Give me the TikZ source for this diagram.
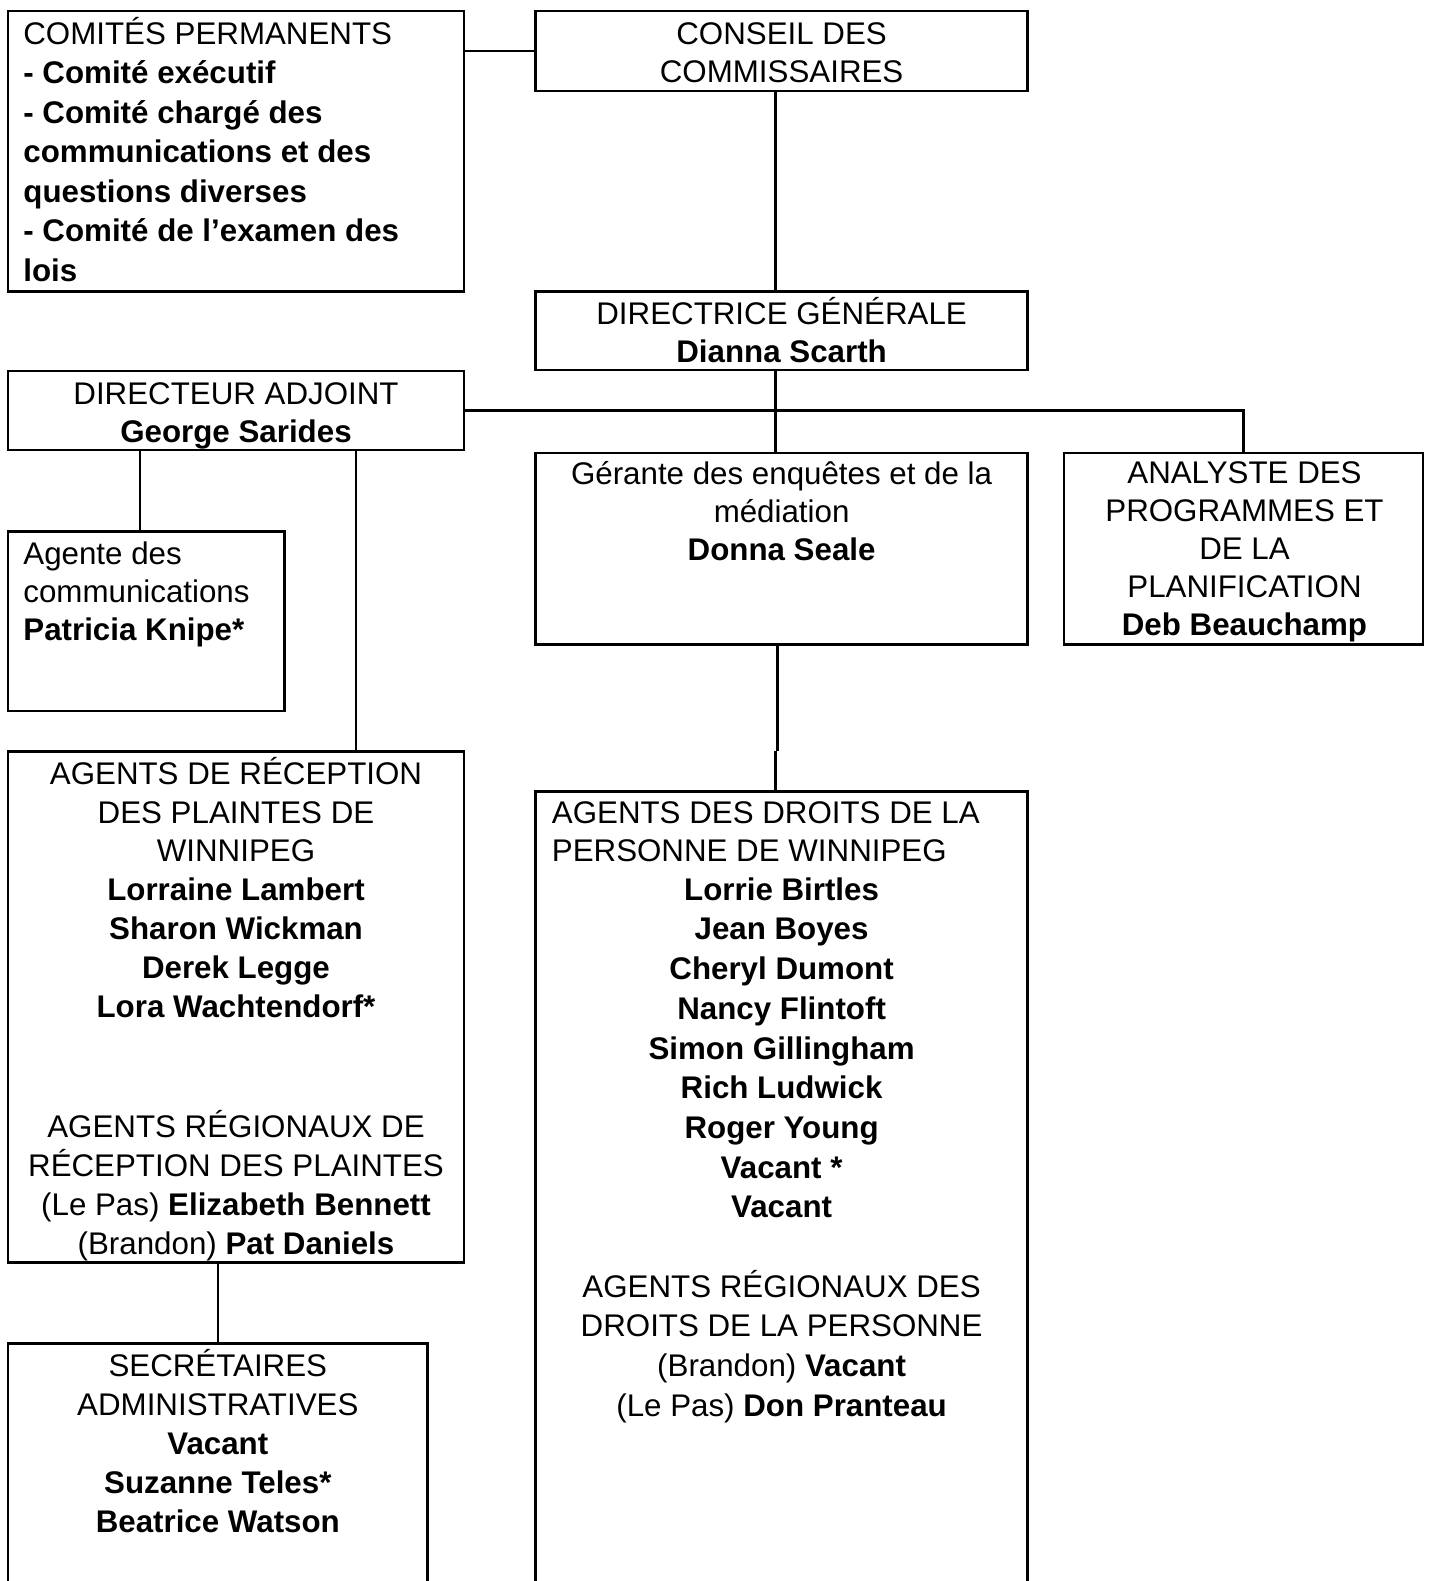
\documentclass[tikz,border=0pt]{standalone}
\usepackage{fontspec}
\setmainfont{Liberation Sans}
\newcommand{\topstrut}{\rule{0pt}{32pt}}
\tikzset{
  box/.style={draw, line width=2.5pt, anchor=north west, inner sep=0pt, outer sep=0pt},
  txt/.style={anchor=north, align=center, inner sep=0pt, font=\fontsize{31.3pt}{#1}\selectfont},
  txt/.default=39.3pt,
  txtl/.style={txt=#1, anchor=north west, align=left},
  txtl/.default=39.3pt,
  link/.style={line width=2.5pt}
}

\begin{document}
\begin{tikzpicture}[x=1pt, y=-1pt]
\useasboundingbox (0,0) rectangle (1429,1581);
\clip (0,0) rectangle (1429,1581);
\fill[white] (0,0) rectangle (1429,1581);

\node[box, minimum width=456pt, minimum height=280.5pt] (cp) at (8,11) {};
\node[box, minimum width=492.2pt, minimum height=79.8pt] (cdc) at (535.5,11) {};
\node[box, minimum width=492.2pt, minimum height=78.5pt] (dg) at (535.5,291.5) {};
\node[box, minimum width=456pt, minimum height=79pt] (da) at (8,371) {};
\node[box, minimum width=492.2pt, minimum height=191.6pt] (gerante) at (535.5,452.8) {};
\node[box, minimum width=359pt, minimum height=191.6pt] (analyste) at (1064,452.8) {};
\node[box, minimum width=276.4pt, minimum height=179.5pt] (agente) at (8,531.5) {};
\node[box, minimum width=456pt, minimum height=511.3pt] (arec) at (8,751.3) {};
\node[box, minimum width=492.2pt, minimum height=850pt] (adp) at (535.5,791.7) {};
\node[box, minimum width=419.6pt, minimum height=300pt] (sec) at (8,1343.3) {};

\node[txtl=39.5pt] (cpt) at (23.2,12) {\topstrut COMITÉS PERMANENTS\\
  \textbf{- Comité exécutif}\\ \textbf{- Comité chargé des}\\
  \textbf{communications et des}\\ \textbf{questions diverses}\\
  \textbf{- Comité de l’examen des}\\ \textbf{lois}};
\node[txt=38.3pt] (cdct) at (781.6,12.5) {\topstrut CONSEIL DES\\ COMMISSAIRES};
\node[txt=38.3pt] (dgt) at (781.6,292) {\topstrut DIRECTRICE GÉNÉRALE\\ \textbf{Dianna Scarth}};
\node[txt=38.3pt] (dat) at (236,372) {\topstrut DIRECTEUR ADJOINT\\ \textbf{George Sarides}};
\node[txt=38pt] (gerantet) at (781.6,452.5) {\topstrut Gérante des enquêtes et de la\\
  médiation\\ \textbf{Donna Seale}};
\node[txt=38pt] (analystet) at (1244.5,451.5) {\topstrut ANALYSTE DES\\ PROGRAMMES ET\\
  DE LA\\ PLANIFICATION\\ \textbf{Deb Beauchamp}};
\node[txtl=38pt] (agentet) at (23.2,532) {\topstrut Agente des\\ communications\\
  \textbf{Patricia Knipe*}};
\node[txt=38.8pt] (arect) at (236,752) {\topstrut AGENTS DE RÉCEPTION\\ DES PLAINTES DE\\
  WINNIPEG\\ \textbf{Lorraine Lambert}\\ \textbf{Sharon Wickman}\\ \textbf{Derek Legge}\\
  \textbf{Lora Wachtendorf*}\\[82pt]
  AGENTS RÉGIONAUX DE\\ RÉCEPTION DES PLAINTES\\
  (Le Pas) \textbf{Elizabeth Bennett}\\ (Brandon) \textbf{Pat Daniels}};
\node[txtl=38.3pt] (adpt) at (551.7,791.4) {\topstrut AGENTS DES DROITS DE LA\\
  PERSONNE DE WINNIPEG};
\node[txt=39.7pt] (adpn) at (781.6,868) {\topstrut \textbf{Lorrie Birtles}\\
  \textbf{Jean Boyes}\\ \textbf{Cheryl Dumont}\\ \textbf{Nancy Flintoft}\\
  \textbf{Simon Gillingham}\\ \textbf{Rich Ludwick}\\ \textbf{Roger Young}\\
  \textbf{Vacant *}\\ \textbf{Vacant}\\[39.7pt]
  AGENTS RÉGIONAUX DES\\ DROITS DE LA PERSONNE\\
  (Brandon) \textbf{Vacant}\\ (Le Pas) \textbf{Don Pranteau}};
\node[txt=39.1pt] (sect) at (217.8,1344) {\topstrut SECRÉTAIRES\\ ADMINISTRATIVES\\
  \textbf{Vacant}\\ \textbf{Suzanne Teles*}\\ \textbf{Beatrice Watson}};

\coordinate (spine) at (775.5,0);
\coordinate (jog) at (777.5,751.3);
\coordinate (ka) at (140,0);
\coordinate (kr) at (356,0);
\draw[link] (cdc.west) -- (cdc.west -| cp.east);
\draw[link] (cdc.south -| spine) -- (dg.north -| spine);
\draw[link] (dg.south -| spine) -- (gerante.north -| spine);
\draw[link] (da.east) -| (analyste.north);
\draw[link] (da.south -| ka) -- (agente.north -| ka);
\draw[link] (da.south -| kr) -- (arec.north -| kr);
\draw[link] (gerante.south -| jog) -- (jog);
\draw[link] (jog -| spine) -- (adp.north -| spine);
\draw[link] (arec.south -| sec.north) -- (sec.north);
\end{tikzpicture}
\end{document}
